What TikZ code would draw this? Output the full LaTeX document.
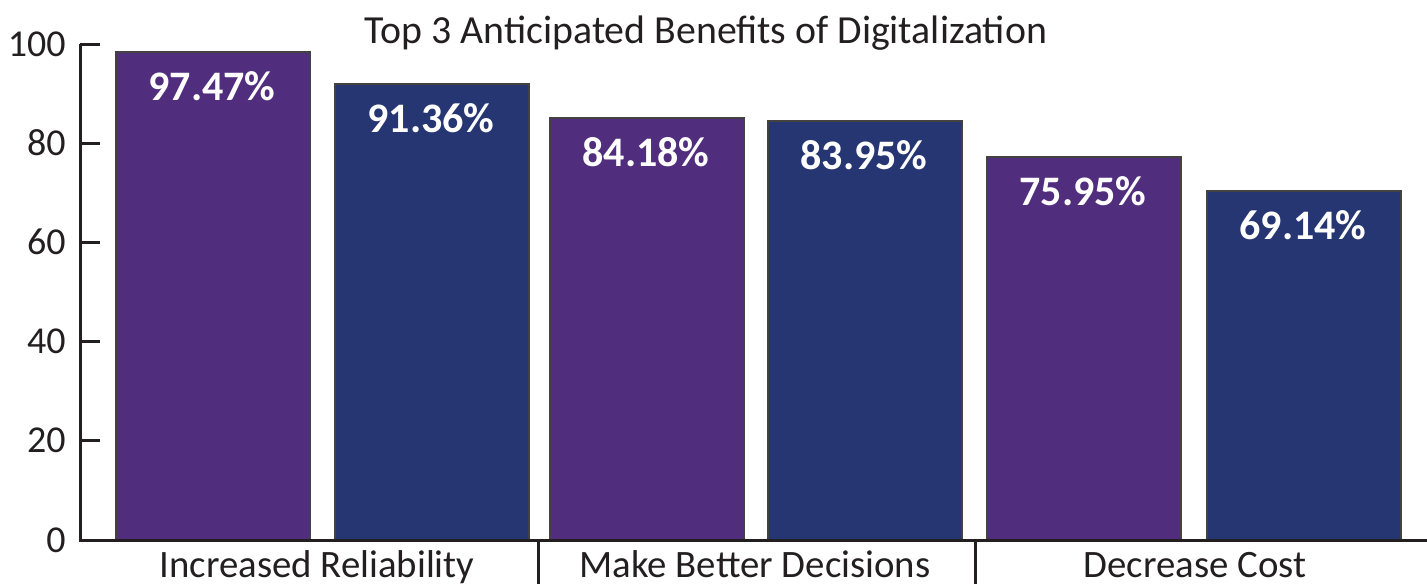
\documentclass[tikz,border=0pt]{standalone}
\usepackage{fontspec}
\setmainfont{Carlito}
\usepackage{xcolor}

\definecolor{barviolet}{RGB}{80,45,125}
\definecolor{barnavy}{RGB}{37,54,114}
\definecolor{inkgray}{RGB}{35,31,32}

\tikzset{
  bar/.style={draw=inkgray!85, line width=0.75pt},
  axisline/.style={draw=inkgray, line width=1.5pt},
  value/.style={text=white, font=\fontsize{21}{24}\selectfont\bfseries, inner sep=0pt},
  ticklabel/.style={text=inkgray, font=\fontsize{19}{22}\selectfont, inner sep=0pt, anchor=base east},
  catlabel/.style={text=inkgray, font=\fontsize{19.4}{22}\selectfont, inner sep=0pt, anchor=base}
}

\begin{document}
\begin{tikzpicture}[x=0.5pt,y=-0.5pt]
\useasboundingbox (0,0) rectangle (1427,584);

\node[text=inkgray, font=\fontsize{19.9}{24}\selectfont, inner sep=0pt, anchor=base] (title) at (706,43) {Top 3 Anticipated Benefits of Digitalization};

% bars with their values
\foreach \x/\top/\col/\val [count=\i] in {116/52/barviolet/97.47, 335/84/barnavy/91.36, 550/118/barviolet/84.18, 768/121/barnavy/83.95, 987/157/barviolet/75.95, 1207/191/barnavy/69.14} {
  \draw[bar, fill=\col] (\x,540) rectangle (\x+194,\top);
  \node[value, anchor=base] (v\i) at (\x+96,\top+48) {\val\%};
}

% axes
\coordinate (origin) at (80,540);
\coordinate (ytop) at (80,44);
\coordinate (xend) at (1427,540);
\draw[axisline] (ytop) -- (origin) -- (xend);
\foreach \v [count=\i] in {0,20,...,100} {
  \coordinate (t\i) at (80,540-\v*4.96);
  \draw[axisline] (t\i) -- ++(20,0);
  \node[ticklabel] (tl\i) at (66,540-\v*4.96+12) {\v};
}

% categories
\coordinate (s1) at (538,540);
\coordinate (s2) at (975,540);
\draw[axisline] (s1) -- ++(0,44);
\draw[axisline] (s2) -- ++(0,44);
\node[catlabel] (c1) at (317,577) {Increased Reliability};
\node[catlabel] (c2) at (755,577) {Make Better Decisions};
\node[catlabel] (c3) at (1195,577) {Decrease Cost};
\end{tikzpicture}
\end{document}
